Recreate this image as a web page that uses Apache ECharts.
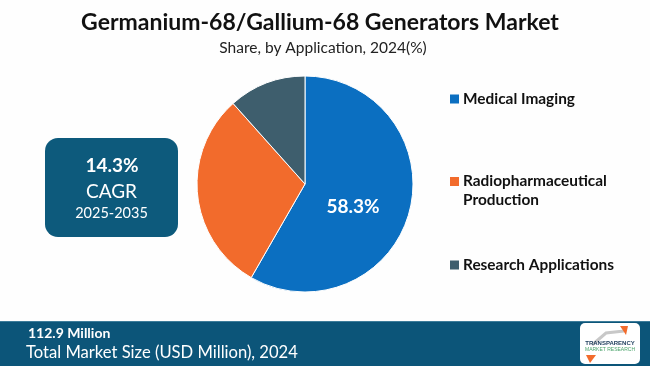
<!DOCTYPE html>
<html><head><meta charset="utf-8">
<script src="https://cdn.jsdelivr.net/npm/echarts@6/dist/echarts.min.js"></script>
<style>html,body{margin:0;padding:0;background:#fff}#c{width:650px;height:366px}</style>
</head><body><div id="c"></div>
<script>
const categories = ['Medical Imaging', 'Radiopharmaceutical\nProduction', 'Research Applications'];
const shares = [58.3, 30.1, 11.6];
const colors = ['#0b6fc1', '#f26b2c', '#3e5e6d'];
const labelShown = [true, false, false];
const cagrText = ['14.3%', 'CAGR', '2025-2035'];
const footerText = ['112.9 Million', 'Total Market Size (USD Million), 2024'];

const chart = echarts.init(document.getElementById('c'));
const legendY = [99, 191, 265];
const legendGraphics = [];
categories.forEach((n, i) => {
  const lines = n.split('\n').length;
  const firstLineY = legendY[i] - (lines - 1) * 9.5;
  legendGraphics.push({type:'rect', shape:{x:450, y:firstLineY-4.5, width:9, height:9}, style:{fill:colors[i]}});
  legendGraphics.push({type:'text', x:463, y:legendY[i], style:{text:n, font:'bold 15.4px Lato, "Open Sans", sans-serif', fill:'#111', textVerticalAlign:'middle', lineHeight:19}});
});

chart.setOption({
  backgroundColor:'#fefefe',
  title:[
    {text:'Germanium-68/Gallium-68 Generators Market', left:315, top:6, textAlign:'center',
     textStyle:{fontFamily:'Lato, "Open Sans", sans-serif', fontWeight:'bold', fontSize:23, color:'#111'}},
    {text:'Share, by Application, 2024(%)', left:318, top:35, textAlign:'center',
     textStyle:{fontFamily:'Lato, "Noto Sans", sans-serif', fontWeight:'normal', fontSize:15.5, color:'#222'}}
  ],
  series:[{
    type:'pie', center:[305,184], radius:[0,108], startAngle:90, clockwise:true,
    itemStyle:{borderColor:'#fff', borderWidth:1},
    label:{show:false}, labelLine:{show:false}, emphasis:{disabled:true},
    data: categories.map((n,i)=>({name:n, value:shares[i], itemStyle:{color:colors[i]},
      label:{show:labelShown[i], position:'inside', offset:[-7,8], formatter:'{c}%', color:'#fff', fontSize:19, fontWeight:'bold', fontFamily:'Lato, "Open Sans", sans-serif'}}))
  }],
  graphic: [
    {type:'rect', shape:{x:45, y:138, width:133, height:99, r:13}, style:{fill:'#0d5a7c'}},
    {type:'text', x:112, y:166, style:{text:cagrText[0], font:'bold 19px Lato, sans-serif', fill:'#fff', textAlign:'center', textVerticalAlign:'middle'}},
    {type:'text', x:111.5, y:192, style:{text:cagrText[1], font:'19px Lato, sans-serif', fill:'#fff', textAlign:'center', textVerticalAlign:'middle'}},
    {type:'text', x:111.5, y:213, style:{text:cagrText[2], font:'14.5px Lato, sans-serif', fill:'#fff', textAlign:'center', textVerticalAlign:'middle'}},
    {type:'rect', shape:{x:0, y:321, width:650, height:45}, style:{fill:'#0c5579'}},
    {type:'rect', shape:{x:0, y:321, width:650, height:1}, style:{fill:'#3d7c9a'}},
    {type:'text', x:28, y:333, style:{text:footerText[0], font:'bold 14px Lato, sans-serif', fill:'#fff', textVerticalAlign:'middle'}},
    {type:'text', x:26, y:353, style:{text:footerText[1], font:'16.6px Lato, sans-serif', fill:'#fff', textVerticalAlign:'middle'}},
    {type:'rect', shape:{x:580, y:323, width:60, height:41, r:5}, style:{fill:'#fff'}},
    {type:'polyline', shape:{points:[[592,345],[606,333],[624,331]]}, style:{stroke:'#c8c8c8', lineWidth:3, fill:null}},
    {type:'polygon', shape:{points:[[620,326],[628,326],[626,335]]}, style:{fill:'#f26b2c'}},
    {type:'polygon', shape:{points:[[586,355],[596,355],[590,363]]}, style:{fill:'#f26b2c'}},
    {type:'text', x:610, y:343, style:{text:'TRANSPARENCY', font:'bold 6px "Liberation Sans", sans-serif', fill:'#1a3a5a', textAlign:'center', textVerticalAlign:'middle'}},
    {type:'text', x:610, y:350, style:{text:'MARKET RESEARCH', font:'5px "Liberation Sans", sans-serif', fill:'#4aa36a', textAlign:'center', textVerticalAlign:'middle'}},
    ...legendGraphics
  ]
});
</script></body></html>
